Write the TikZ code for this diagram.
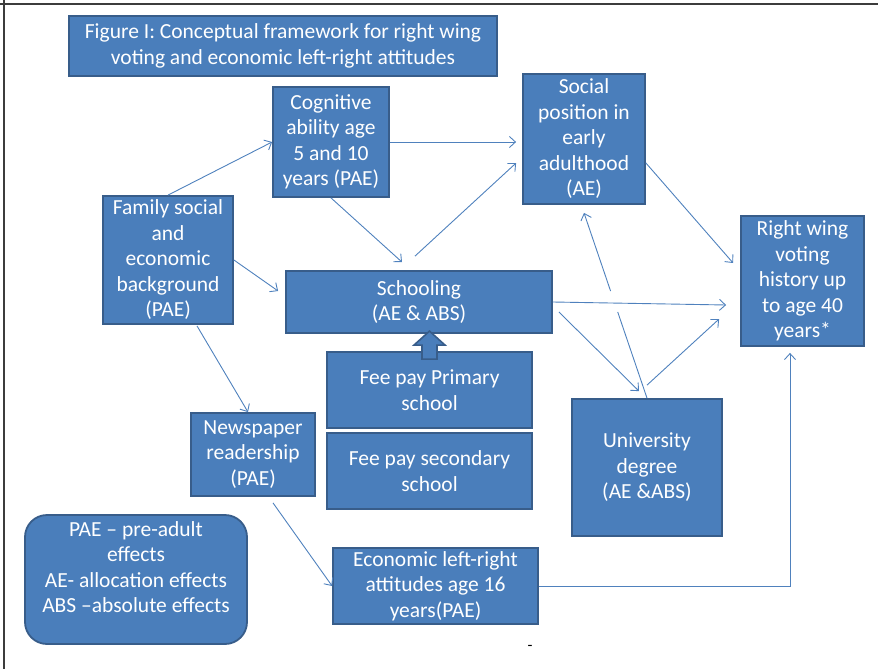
\documentclass[tikz,border=0pt]{standalone}
\usepackage{fontspec}
\setmainfont{Carlito}
\usetikzlibrary{arrows.meta,calc}
\definecolor{boxfill}{RGB}{74,126,187}
\definecolor{boxedge}{RGB}{56,93,138}
\definecolor{linkc}{RGB}{79,129,189}
\definecolor{framec}{RGB}{60,60,60}

\begin{document}
\begin{tikzpicture}[x=1pt,y=-1pt,
  blk/.style={draw=boxedge, line width=1.8pt, fill=boxfill, text=white,
    align=center, inner sep=0pt, font=\fontsize{21.5}{25.5}\selectfont},
  legbox/.style={blk, rounded corners=22pt},
  legtext/.style={text=white, align=center, inner sep=0pt,
    font=\fontsize{21.5}{25.5}\selectfont},
  linkplain/.style={draw=linkc, line width=0.9pt},
  link/.style={linkplain, -{Straight Barb[length=6pt,width=11pt]}},
  bigarrow/.style={draw=boxedge, line width=1.6pt, fill=boxfill, line join=miter},
]
\useasboundingbox (0,0) rectangle (878,669);

% page frame (top and left rules)
\draw[framec, line width=2pt] (0,4) -- (878,4);
\draw[framec, line width=1.3pt] (4,0) -- (4,669);

% boxes
\node[blk, minimum width=428pt, minimum height=60pt] (title) at (283,46)
  {Figure I: Conceptual framework for right wing\\voting and economic left-right attitudes};
\node[blk, minimum width=116pt, minimum height=110pt] (cog) at (331,142)
  {Cognitive\\ability age\\5 and 10\\years (PAE)};
\node[blk, minimum width=122pt, minimum height=130pt] (soc) at (584,139)
  {Social\\position in\\early\\adulthood\\(AE)};
\node[blk, minimum width=130pt, minimum height=128pt] (fam) at (168,260)
  {Family social\\and\\economic\\background\\(PAE)};
\node[blk, minimum width=266pt, minimum height=62pt] (sch) at (419,302)
  {Schooling\\(AE \& ABS)};
\node[blk, minimum width=123pt, minimum height=130pt] (rw) at (802.5,281)
  {Right wing\\voting\\history up\\to age 40\\years*};
\node[blk, minimum width=205pt, minimum height=76pt] (fp) at (429.5,390)
  {Fee pay Primary\\school};
\node[blk, minimum width=205pt, minimum height=76pt] (fs) at (429.5,471)
  {Fee pay secondary\\school};
\node[blk, minimum width=124pt, minimum height=83pt] (news) at (253,454.5)
  {Newspaper\\readership\\(PAE)};
\node[blk, minimum width=150pt, minimum height=137pt] (uni) at (647,467.5)
  {University\\degree\\(AE \&ABS)};
\node[blk, minimum width=205pt, minimum height=76pt] (eco) at (435.5,586)
  {Economic left-right\\attitudes age 16\\years(PAE)};

% legend
\node[legbox, minimum width=222pt, minimum height=129pt] (leg) at (136,579.5) {};
\node[legtext] (legtxt) at (136,567)
  {PAE -- pre-adult\\effects\\AE- allocation effects\\ABS --absolute effects};

% block arrow: fee paying primary school into schooling
\begin{scope}[shift={(fp.north)}]
  \draw[bigarrow] (-7.5,8) -- (-7.5,-6) -- (-15.5,-6) -- (0,-20)
    -- (15.5,-6) -- (7.5,-6) -- (7.5,8) -- cycle;
\end{scope}

% connectors
\draw[link] (fam.north) -- (cog.west);
\draw[link] (cog.east) -- ($(soc.west |- cog.east)+(-6,0)$);
\draw[link] (cog.south) -- ([xshift=-17pt,yshift=8pt]sch.north);
\draw[link] ([xshift=-4pt,yshift=14pt]sch.north) -- ([xshift=-6pt,yshift=-24pt]soc.west);
\draw[link] (fam.east) -- ([xshift=-7pt,yshift=11pt]sch.west);
\draw[link] ([xshift=29pt,yshift=-1pt]fam.south) -- ([xshift=-5pt]news.north);
\draw[link] ([xshift=20pt,yshift=-6pt]news.south) -- (eco.west);
\coordinate (rwin) at ([xshift=-12.5pt,yshift=-6pt]rw.south);
\draw[link] (eco.east) -| (rwin);
\draw[link] ([yshift=-24pt]soc.east) -- ([xshift=-7pt,yshift=18pt]rw.west);
\draw[link] (sch.east) -- ([xshift=-14pt,yshift=-24pt]rw.west);
\draw[link] ([xshift=6pt,yshift=-10pt]sch.east) -- ([xshift=-8pt,yshift=7pt]uni.north);
\draw[link] ([yshift=13pt]uni.north) -- ([xshift=-21pt,yshift=-38pt]rw.west);
\coordinate (socin) at ([yshift=-8pt]soc.south);
\draw[linkplain] (uni.north) -- ($(uni.north)!0.465!(socin)$);
\draw[link] ($(uni.north)!0.578!(socin)$) -- (socin);

% stray mark below the diagram
\node[font=\fontsize{16}{16}\selectfont, inner sep=0pt] (dash) at (530,648) {-};
\end{tikzpicture}
\end{document}
